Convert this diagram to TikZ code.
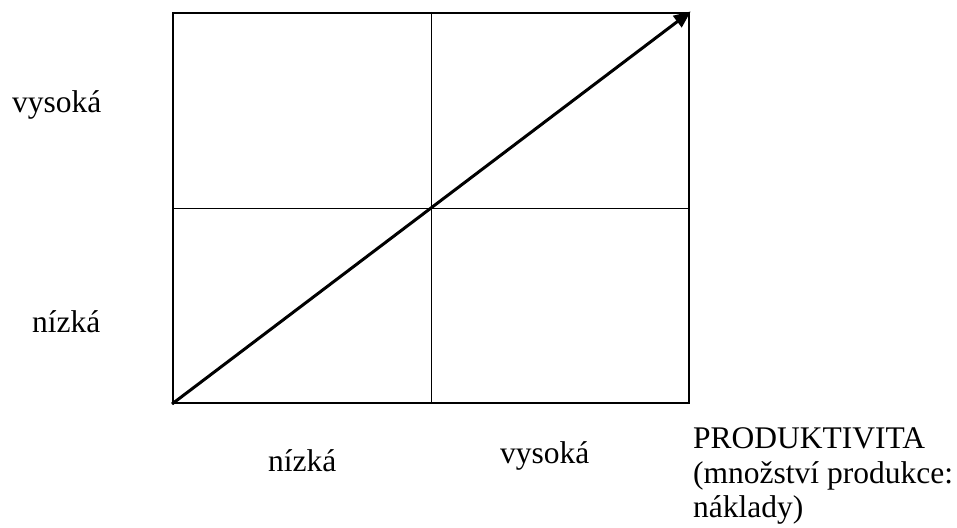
\documentclass[tikz,border=0pt]{standalone}
\usepackage{fontspec}
\setmainfont{Liberation Serif}
\usepackage{xcolor}
\usepackage{tikz}
\usetikzlibrary{arrows.meta, positioning}
\definecolor{inkblack}{RGB}{0,0,0}
\tikzset{
  matrixbox/.style={
    rectangle, draw=inkblack, line width=2pt,
    minimum width=516pt, minimum height=390pt,
    inner sep=0pt
  },
  divider/.style={draw=inkblack, line width=1pt},
  trend/.style={-{Triangle[length=17pt, width=14pt]}, line width=3pt, color=inkblack, shorten >=-1pt},
  label/.style={inner sep=0pt, anchor=base west, font=\fontsize{31.5}{35}\selectfont},
}

\begin{document}
\begin{tikzpicture}[x=1pt, y=-1pt]
  \useasboundingbox (0,0) rectangle (957,527);

  % Nodes
  \node[matrixbox] (pole) at (431,208) {};

  \node[label] (vyskaV) at (12,112)  {vysoká};
  \node[label] (nizkaV) at (32,332)  {nízká};
  \node[label] (nizkaP) at (268,471) {nízká};
  \node[label] (vyskaP) at (500,463) {vysoká};

  \node[label] (prod)  at (693,448) {PRODUKTIVITA};
  \node[label] (mnoz)  at (693,483) {(množství produkce:};
  \node[label] (nakl)  at (693,517) {náklady)};

  % Lines
  \draw[divider] (pole.north) -- (pole.south);
  \draw[divider] (pole.west) -- (pole.east);
  \draw[trend] (pole.south west) -- (pole.north east);

\end{tikzpicture}
\end{document}
